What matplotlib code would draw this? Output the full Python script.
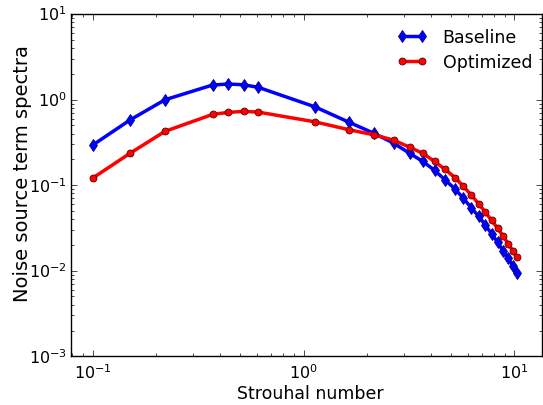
import matplotlib
matplotlib.use("Agg")
import matplotlib.pyplot as plt

st = [0.10, 0.15, 0.22, 0.37, 0.44, 0.52, 0.61, 1.13, 1.65, 2.15, 2.67, 3.18,
      3.68, 4.18, 4.69, 5.24, 5.73, 6.25, 6.77, 7.29, 7.80, 8.34, 8.84, 9.33,
      9.82, 10.3]
baseline = [0.294, 0.576, 0.995, 1.48, 1.52, 1.49, 1.39, 0.824, 0.541, 0.405,
            0.31, 0.236, 0.189, 0.149, 0.115, 0.0898, 0.0699, 0.0543, 0.0431,
            0.0340, 0.0269, 0.0214, 0.0169, 0.0139, 0.0114, 0.00935]
optimized = [0.121, 0.235, 0.425, 0.671, 0.709, 0.728, 0.714, 0.550, 0.443,
             0.388, 0.336, 0.278, 0.235, 0.189, 0.153, 0.122, 0.0966, 0.0764,
             0.0604, 0.0480, 0.0387, 0.0312, 0.0253, 0.0208, 0.0171, 0.0143]

plt.style.use("classic")
fig = plt.figure(figsize=(5.43, 4.06), dpi=100)
ax = fig.add_axes([0.131, 0.12, 0.867, 0.843])

ax.loglog(st, baseline, color="blue", lw=2.5, marker="d", ms=6,
          mec="#00008b", mew=0.6, label="Baseline")
ax.loglog(st, optimized, color="red", lw=2.5, marker="o", ms=5,
          mec="#5a0000", mew=0.6, label="Optimized")

ax.set_xlim(0.079, 13.5)
ax.set_ylim(1e-3, 1e1)
ax.set_xlabel("Strouhal number", fontsize=12.5)
ax.set_ylabel("Noise source term spectra", fontsize=14)
ax.xaxis.set_label_coords(0.509, -0.08)
ax.yaxis.set_label_coords(-0.083, 0.538)
ax.tick_params(labelsize=11.5)
ax.tick_params(axis="y", pad=3)
ax.legend(loc="upper right", bbox_to_anchor=(0.994, 0.978), frameon=False,
          fontsize=12.5, numpoints=2, labelspacing=0.4, handlelength=1.75,
          handletextpad=0.9, borderaxespad=0.0)

fig.savefig("out.png", dpi=100)
